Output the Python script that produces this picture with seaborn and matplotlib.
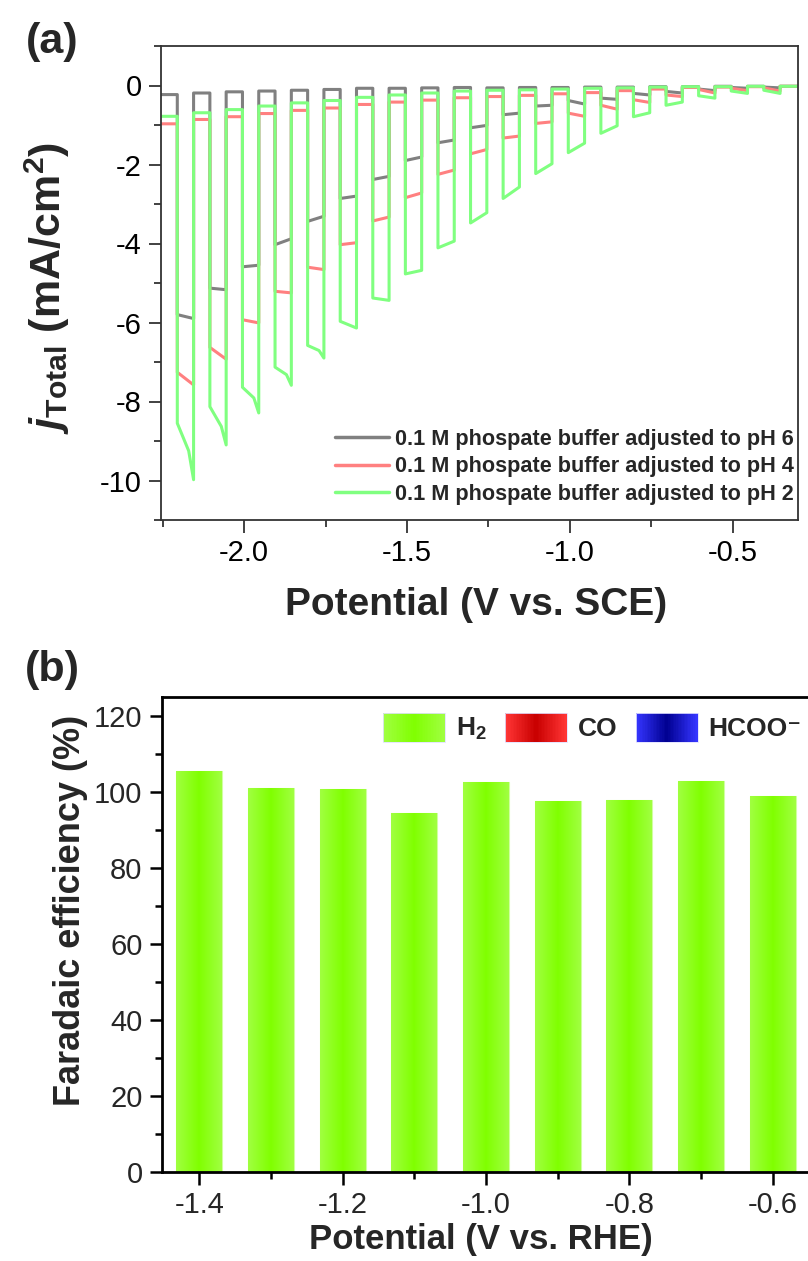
import numpy as np
import pandas as pd
import matplotlib
matplotlib.use("Agg")
import matplotlib.pyplot as plt
import seaborn as sns
from matplotlib.legend_handler import HandlerBase
from matplotlib.patches import Rectangle, Patch
from matplotlib.colors import LinearSegmentedColormap
from matplotlib.ticker import MultipleLocator

# ---------------- data: panel (a) chopped potential scan ----------------
scan_start = -2.255
scan_end = -0.300
pulse_start = [-2.205, -2.105, -2.005, -1.905, -1.805, -1.705, -1.605, -1.505, -1.405, -1.305,
               -1.205, -1.105, -1.005, -0.905, -0.805, -0.705, -0.605, -0.505, -0.405]
pulse_end = [-2.155, -2.055, -1.955, -1.855, -1.755, -1.655, -1.555, -1.455, -1.355, -1.255,
             -1.155, -1.055, -0.955, -0.855, -0.755, -0.655, -0.555, -0.455, -0.355]

# pH 6 (grey)
ph6_off = [-0.23, -0.19, -0.16, -0.14, -0.12, -0.10, -0.07, -0.07, -0.06, -0.05,
           -0.06, -0.05, -0.05, -0.04, -0.04, -0.03, -0.03, -0.02, -0.02, -0.02]
ph6_on_start = [-5.80, -5.13, -4.59, -4.03, -3.44, -2.86, -2.38, -1.90, -1.45, -1.07,
                -0.74, -0.52, -0.38, -0.32, -0.20, -0.15, -0.09, -0.05, -0.04]
ph6_on_end = [-5.90, -5.17, -4.55, -3.88, -3.31, -2.80, -2.30, -1.81, -1.38, -1.01,
              -0.70, -0.50, -0.47, -0.35, -0.24, -0.19, -0.13, -0.07, -0.06]
# pH 4 (red)
ph4_off = [-0.97, -0.86, -0.79, -0.71, -0.63, -0.57, -0.48, -0.42, -0.37, -0.31,
           -0.28, -0.25, -0.21, -0.18, -0.13, -0.09, -0.05, -0.04, -0.03, -0.02]
ph4_on_start = [-7.26, -6.63, -5.93, -5.21, -4.60, -4.03, -3.43, -2.84, -2.25, -1.73,
                -1.33, -0.96, -0.70, -0.50, -0.36, -0.24, -0.10, -0.07, -0.06]
ph4_on_end = [-7.58, -6.93, -6.01, -5.25, -4.66, -3.98, -3.33, -2.72, -2.14, -1.62,
              -1.28, -0.92, -0.78, -0.60, -0.43, -0.28, -0.19, -0.13, -0.14]
# pH 2 (green)
ph2_off = [-0.78, -0.69, -0.61, -0.52, -0.44, -0.38, -0.30, -0.24, -0.19, -0.14,
           -0.12, -0.11, -0.09, -0.07, -0.06, -0.04, -0.03, -0.03, -0.02, -0.02]
ph2_on_start = [-8.55, -8.13, -7.64, -7.13, -6.58, -5.97, -5.38, -4.77, -4.11, -3.48,
                -2.86, -2.23, -1.70, -1.21, -0.79, -0.50, -0.26, -0.14, -0.12]
ph2_on_end = [-9.98, -9.10, -8.29, -7.59, -6.90, -6.14, -5.44, -4.68, -3.94, -3.22,
              -2.57, -1.98, -1.46, -1.02, -0.69, -0.42, -0.32, -0.20, -0.20]
ph2_knee_pot = [-2.170, -2.070, -1.970, -1.870, -1.770]
ph2_knee_val = [-9.25, -8.63, -7.91, -7.32, -6.71]

series_labels = ["0.1 M phospate buffer adjusted to pH 6",
                 "0.1 M phospate buffer adjusted to pH 4",
                 "0.1 M phospate buffer adjusted to pH 2"]
series_colors = ["#808080", "#ff8080", "#80ff80"]

# ---------------- data: panel (b) Faradaic efficiency ----------------
rhe_potential = [-1.4, -1.3, -1.2, -1.1, -1.0, -0.9, -0.8, -0.7, -0.6]
fe_h2 = [105.5, 101.1, 100.8, 94.5, 102.6, 97.6, 97.9, 102.9, 98.9]
fe_co = [0, 0, 0, 0, 0, 0, 0, 0, 0]
fe_hcoo = [0, 0, 0, 0, 0, 0, 0, 0, 0]
product_labels = ["H$_{\\mathbf{2}}$", "CO", "HCOO\u207b"]
product_gradients = [["#a0ff40", "#80ff00", "#a0ff40"],
                     ["#ff3535", "#c80000", "#ff3535"],
                     ["#3535ff", "#000090", "#3535ff"]]

# ---------------- style ----------------
sns.set_theme(style="ticks")
plt.rcParams["font.family"] = ["Liberation Sans", "DejaVu Sans"]
plt.rcParams["axes.unicode_minus"] = False
plt.rcParams["mathtext.fontset"] = "custom"
plt.rcParams["mathtext.rm"] = "Liberation Sans"
plt.rcParams["mathtext.bf"] = "Liberation Sans:bold"
plt.rcParams["mathtext.it"] = "Liberation Sans:italic"
try:
    plt.rcParams["mathtext.bfit"] = "Liberation Sans:italic:bold"
except KeyError:
    pass


def build_trace(off, on_s, on_e, knee_pot=None, knee_val=None):
    xs, ys = [scan_start, pulse_start[0]], [off[0], off[0]]
    n = len(pulse_start)
    for k in range(n):
        xs.append(pulse_start[k]); ys.append(on_s[k])
        if knee_pot is not None and k < len(knee_pot):
            xs.append(knee_pot[k]); ys.append(knee_val[k])
        xs.append(pulse_end[k]); ys.append(on_e[k])
        nxt = pulse_start[k + 1] if k + 1 < n else scan_end
        xs += [pulse_end[k], nxt]; ys += [off[k + 1], off[k + 1]]
    return xs, ys


traces = [build_trace(ph6_off, ph6_on_start, ph6_on_end),
          build_trace(ph4_off, ph4_on_start, ph4_on_end),
          build_trace(ph2_off, ph2_on_start, ph2_on_end, ph2_knee_pot, ph2_knee_val)]
frames = []
for lab, (xs, ys) in zip(series_labels, traces):
    frames.append(pd.DataFrame({"E": xs, "j": ys, "series": lab, "idx": np.arange(len(xs))}))
df_a = pd.concat(frames, ignore_index=True)

W, H = 808, 1261
fig = plt.figure(figsize=(W / 100, H / 100), dpi=100)
ax1 = fig.add_axes([161 / W, 1 - 520 / H, (798 - 161) / W, (520 - 46) / H])
ax2 = fig.add_axes([162 / W, 1 - 1172 / H, (812 - 162) / W, (1172 - 697) / H])

# ---------------- panel (a) ----------------
sns.lineplot(data=df_a, x="E", y="j", hue="series", hue_order=series_labels,
             palette=dict(zip(series_labels, series_colors)), sort=False,
             estimator=None, lw=2.2, ax=ax1)
ax1.set_xlim(-2.255, -0.300)
ax1.set_ylim(-11, 1)
ax1.xaxis.set_major_locator(MultipleLocator(0.5))
ax1.xaxis.set_minor_locator(MultipleLocator(0.25))
ax1.yaxis.set_major_locator(MultipleLocator(2))
ax1.yaxis.set_minor_locator(MultipleLocator(1))
ax1.xaxis.set_major_formatter(matplotlib.ticker.FormatStrFormatter("%.1f"))
ax1.yaxis.set_major_formatter(matplotlib.ticker.FormatStrFormatter("%d"))
for s in ax1.spines.values():
    s.set_color("#333333"); s.set_linewidth(1.3); s.set_visible(True)
ax1.tick_params(which="major", direction="out", length=9, width=1.3, color="#333333",
                labelsize=21, pad=5, labelcolor="black")
ax1.tick_params(which="minor", direction="out", length=5, width=1.3, color="#333333")
ax1.set_xlabel("Potential (V vs. SCE)", fontsize=28, fontweight="bold")
ax1.set_ylabel(r"$\mathbfit{j}_{\mathbf{Total}}$ (mA/cm$^{\mathbf{2}}$)", fontsize=31,
               fontweight="bold")
ax1.xaxis.set_label_coords(0.494, -0.179)
ax1.xaxis.label.set_va("center")
ax1.yaxis.set_label_coords(-0.178, 0.49)
ax1.yaxis.label.set_va("center")
h, l = ax1.get_legend_handles_labels()
leg1 = ax1.legend(h, l, loc="lower right", bbox_to_anchor=(1.018, 0.0), frameon=False,
                  prop={"weight": "bold", "size": 15.6}, handlelength=2.5,
                  handletextpad=0.3, labelspacing=0.3, borderaxespad=0.3)
for ln in leg1.get_lines():
    ln.set_linewidth(2.5)

# ---------------- panel (b) ----------------
df_b = pd.DataFrame({"E": rhe_potential, "H2": fe_h2, "CO": fe_co, "HCOO": fe_hcoo})
sns.barplot(data=df_b, x="E", y="H2", native_scale=True, width=0.64, color="#80ff00",
            edgecolor="#d0ffa0", linewidth=0.8, errorbar=None, ax=ax2)
bars = list(ax2.patches)
cmap_h2 = LinearSegmentedColormap.from_list("h2", product_gradients[0])
grad = np.linspace(0, 1, 64).reshape(1, -1)
for p in bars:
    x0, y0, w, hh = p.get_x(), p.get_y(), p.get_width(), p.get_height()
    im = ax2.imshow(grad, extent=[x0, x0 + w, y0, y0 + hh], aspect="auto", cmap=cmap_h2,
                    origin="lower", interpolation="bilinear", zorder=p.get_zorder() + 0.1)
    im.set_clip_path(p)
# stacked minor products (zero)
bw = bars[0].get_width()
ax2.bar(rhe_potential, fe_co, bottom=fe_h2, width=bw, color="#c80000", linewidth=0)
ax2.bar(rhe_potential, fe_hcoo, bottom=np.add(fe_h2, fe_co), width=bw, color="#000090",
        linewidth=0)

ax2.set_xlim(-1.452, -0.545)
ax2.set_ylim(0, 125)
ax2.set_xticks([-1.4, -1.2, -1.0, -0.8, -0.6])
ax2.set_xticklabels(["-1.4", "-1.2", "-1.0", "-0.8", "-0.6"])
ax2.xaxis.set_minor_locator(MultipleLocator(0.1))
ax2.yaxis.set_major_locator(MultipleLocator(20))
ax2.yaxis.set_minor_locator(MultipleLocator(10))
for s in ax2.spines.values():
    s.set_color("black"); s.set_linewidth(2.0); s.set_visible(True)
ax2.tick_params(which="major", direction="out", length=9, width=1.8, color="black",
                labelsize=21, pad=5)
ax2.tick_params(which="minor", direction="out", length=5, width=1.8, color="black")
ax2.set_xlabel("Potential (V vs. RHE)", fontsize=25, fontweight="bold")
ax2.set_ylabel("Faradaic efficiency (%)", fontsize=26, fontweight="bold")
ax2.xaxis.set_label_coords(0.49, -0.143)
ax2.xaxis.label.set_va("center")
ax2.yaxis.set_label_coords(-0.14, 0.55)
ax2.yaxis.label.set_va("center")


class GradientHandler(HandlerBase):
    def __init__(self, colors):
        super().__init__()
        self.cmap = LinearSegmentedColormap.from_list("g", colors)

    def create_artists(self, legend, orig_handle, xdescent, ydescent, width, height,
                       fontsize, trans):
        n = 40
        arts = []
        for i in range(n):
            r = Rectangle((-xdescent + i * width / n, -ydescent), width / n * 1.05, height,
                          facecolor=self.cmap(i / (n - 1)), linewidth=0, transform=trans)
            arts.append(r)
        arts.append(Rectangle((-xdescent, -ydescent), width, height, fill=False,
                              edgecolor="#e0e0ff", linewidth=0.6, transform=trans))
        return arts


handles = [Patch(label=lab) for lab in product_labels]
hmap = {hd: GradientHandler(g) for hd, g in zip(handles, product_gradients)}
ax2.legend(handles=handles, handler_map=hmap, ncol=3, loc="upper right",
           bbox_to_anchor=(1.008, 1.0), frameon=False,
           prop={"weight": "bold", "size": 19}, handlelength=2.35, handleheight=1.3,
           handletextpad=0.4, columnspacing=0.7, borderaxespad=0.2)

fig.text(52 / W, 1 - 42 / H, "(a)", fontsize=31, fontweight="bold", ha="center", va="center")
fig.text(52 / W, 1 - 670 / H, "(b)", fontsize=31, fontweight="bold", ha="center", va="center")

fig.savefig("out.png", dpi=100)
